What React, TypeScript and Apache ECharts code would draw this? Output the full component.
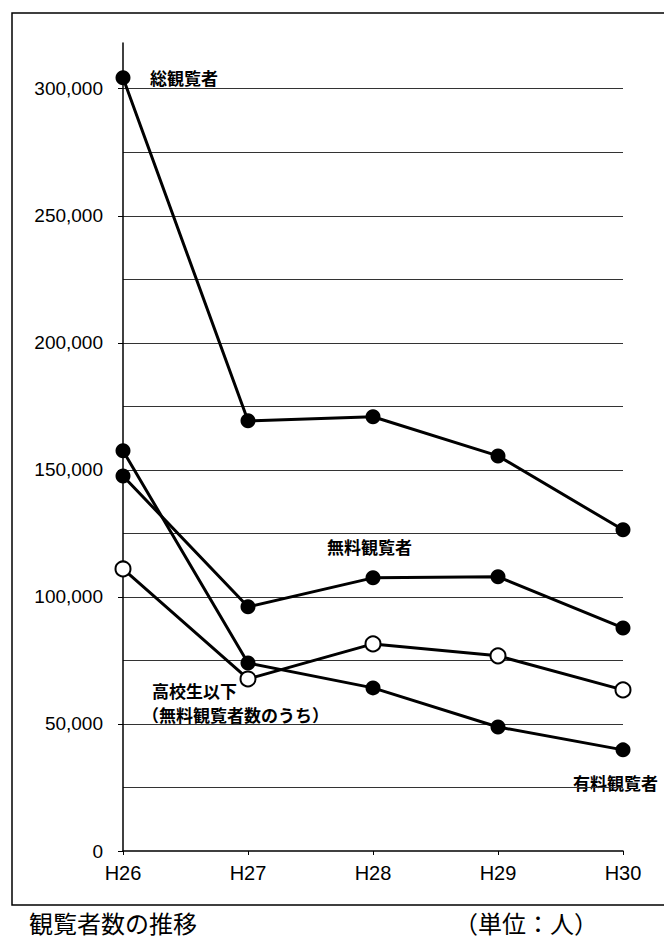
import React, { useEffect, useRef } from "react";
import * as echarts from "echarts";

const categories = ["H26", "H27", "H28", "H29", "H30"];
const totalVisitors = [304300, 169300, 170900, 155500, 126400];
const freeVisitors = [147600, 96100, 107500, 107900, 87800];
const paidVisitors = [157500, 74000, 64200, 48800, 39800];
const highSchoolUnder = [111000, 67700, 81500, 76800, 63400];
const yTickValues = [0, 50000, 100000, 150000, 200000, 250000, 300000];
const yMax = 318000;
const gridInterval = 25000;

const JP = '"Noto Sans CJK JP", "Liberation Sans", sans-serif';
const NUM = '"Liberation Sans", Arial, sans-serif';

export default function App() {
  const ref = useRef<HTMLDivElement>(null);
  useEffect(() => {
    if (!ref.current) return;
    const chart = echarts.init(ref.current, null, { renderer: "svg" });
    const lineSeries = (name: string, data: number[], open: boolean) => ({
      name,
      type: "line",
      data,
      yAxisIndex: 0,
      symbol: "circle",
      symbolSize: 15,
      lineStyle: { color: "#000", width: 3 },
      itemStyle: open
        ? { color: "#fff", borderColor: "#000", borderWidth: 2 }
        : { color: "#000", borderColor: "#000", borderWidth: 0 },
      z: open ? 4 : 3,
    });
    chart.setOption({
      animation: false,
      backgroundColor: "#fff",
      grid: { left: 123, right: 41, top: 43, bottom: 88, containLabel: false },
      xAxis: {
        type: "category",
        data: categories,
        boundaryGap: false,
        axisLine: { lineStyle: { color: "#000", width: 1.5 } },
        axisTick: { show: true, length: 4, lineStyle: { color: "#000" } },
        axisLabel: { color: "#000", fontSize: 20, fontFamily: NUM, margin: 12 },
        splitLine: { show: false },
      },
      yAxis: [
        {
          type: "value",
          position: "left",
          min: 0,
          max: yMax,
          interval: gridInterval,
          axisLine: { show: true, lineStyle: { color: "#000", width: 1.5 } },
          axisTick: {
            show: true,
            length: 5,
            customValues: yTickValues,
            lineStyle: { color: "#000" },
          },
          axisLabel: {
            customValues: yTickValues,
            color: "#000",
            fontSize: 19,
            fontFamily: NUM,
            margin: 20,
            formatter: (v: number) => v.toLocaleString("en-US"),
          },
          splitLine: { show: false },
        },
        {
          type: "value",
          position: "left",
          offset: 0,
          min: 0,
          max: yMax,
          interval: gridInterval,
          axisLine: { show: false },
          axisTick: { show: false },
          axisLabel: { show: false },
          splitLine: {
            show: true,
            showMinLine: false,
            showMaxLine: false,
            lineStyle: { color: "#333", width: 1.2 },
          },
        },
      ],
      series: [
        lineSeries("総観覧者", totalVisitors, false),
        lineSeries("無料観覧者", freeVisitors, false),
        lineSeries("有料観覧者", paidVisitors, false),
        lineSeries("高校生以下", highSchoolUnder, true),
      ],
      graphic: [
        {
          type: "rect",
          shape: { x: 12, y: 13, width: 660, height: 892 },
          style: { fill: "none", stroke: "#000", lineWidth: 1.5 },
          silent: true,
        },
        {
          type: "text",
          x: 150,
          y: 77,
          style: { text: "総観覧者", font: `bold 17px ${JP}`, fill: "#000", verticalAlign: "middle" },
        },
        {
          type: "text",
          x: 327,
          y: 546,
          style: { text: "無料観覧者", font: `bold 17px ${JP}`, fill: "#000", verticalAlign: "middle" },
        },
        {
          type: "text",
          x: 152,
          y: 690,
          style: { text: "高校生以下", font: `bold 17px ${JP}`, fill: "#000", verticalAlign: "middle" },
        },
        {
          type: "text",
          x: 142,
          y: 714,
          style: { text: "（無料観覧者数のうち）", font: `bold 17px ${JP}`, fill: "#000", verticalAlign: "middle" },
        },
        {
          type: "text",
          x: 573,
          y: 782,
          style: { text: "有料観覧者", font: `bold 17px ${JP}`, fill: "#000", verticalAlign: "middle" },
        },
        {
          type: "text",
          x: 29,
          y: 922,
          style: { text: "観覧者数の推移", font: `24px ${JP}`, fill: "#000", verticalAlign: "middle" },
        },
        {
          type: "text",
          x: 454,
          y: 922,
          style: { text: "（単位：人）", font: `24px ${JP}`, fill: "#000", verticalAlign: "middle" },
        },
      ],
    });
    return () => chart.dispose();
  }, []);
  return (
    <div
      ref={ref}
      style={{ position: "fixed", left: 0, top: 0, width: 664, height: 939, background: "#fff" }}
    />
  );
}
